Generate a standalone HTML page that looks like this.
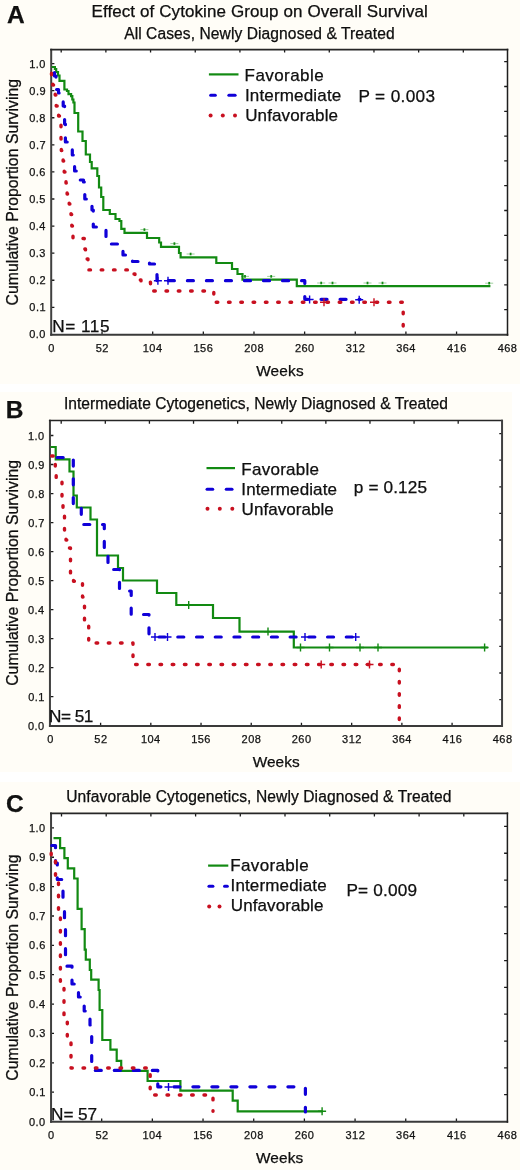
<!DOCTYPE html>
<html><head><meta charset="utf-8"><title>Cytokine survival</title>
<style>
html,body{margin:0;padding:0;background:#fff;}
body{width:520px;height:1170px;overflow:hidden;}
svg{display:block;font-family:"Liberation Sans", sans-serif;will-change:transform;}
text{stroke:currentColor;stroke-width:0.25px;}
</style></head>
<body>
<svg width="520" height="1170" viewBox="0 0 520 1170">
<rect x="0" y="0" width="520" height="1170" fill="#fff"/>
<rect x="0" y="0" width="520" height="384" fill="#fffdf7"/>
<rect x="51.4" y="49.6" width="455.8" height="284.79999999999995" fill="#fff"/>
<path d="M51.40,307.32h3.0 M51.40,280.24h3.0 M51.40,253.16h3.0 M51.40,226.08h3.0 M51.40,199.00h3.0 M51.40,171.92h3.0 M51.40,144.84h3.0 M51.40,117.76h3.0 M51.40,90.68h3.0 M51.40,63.60h3.0 M102.04,334.40v-3.0 M152.69,334.40v-3.0 M203.33,334.40v-3.0 M253.98,334.40v-3.0 M304.62,334.40v-3.0 M355.27,334.40v-3.0 M405.91,334.40v-3.0 M456.56,334.40v-3.0 M61.20,49.60v3.0 M105.88,49.60v3.0 M150.56,49.60v3.0 M195.24,49.60v3.0 M239.92,49.60v3.0 M284.60,49.60v3.0 M329.28,49.60v3.0 M373.96,49.60v3.0 M418.64,49.60v3.0 M463.32,49.60v3.0 M507.20,61.70h-3.0 M507.20,86.50h-3.0 M507.20,111.30h-3.0 M507.20,136.10h-3.0 M507.20,160.90h-3.0 M507.20,185.70h-3.0 M507.20,210.50h-3.0 M507.20,235.30h-3.0 M507.20,260.10h-3.0 M507.20,284.90h-3.0 M507.20,309.70h-3.0" stroke="#1a1a1a" stroke-width="1.3" fill="none"/>
<path d="M51.2,48.85V335.8" stroke="#404040" stroke-width="2" fill="none"/>
<path d="M50.2,334.8H508.3" stroke="#3a3a3a" stroke-width="2" fill="none"/>
<path d="M50.2,49.65H508.3" stroke="#262626" stroke-width="1.6" fill="none"/>
<path d="M507.5,48.85V335.8" stroke="#1e1e1e" stroke-width="1.5" fill="none"/>
<text x="29.24" y="338.40" font-size="11" letter-spacing="0.45" fill="#1c1c1c">0.0</text>
<text x="29.35" y="311.32" font-size="11" letter-spacing="0.45" fill="#1c1c1c">0.1</text>
<text x="29.36" y="284.24" font-size="11" letter-spacing="0.45" fill="#1c1c1c">0.2</text>
<text x="29.29" y="257.16" font-size="11" letter-spacing="0.45" fill="#1c1c1c">0.3</text>
<text x="29.13" y="230.08" font-size="11" letter-spacing="0.45" fill="#1c1c1c">0.4</text>
<text x="29.27" y="203.00" font-size="11" letter-spacing="0.45" fill="#1c1c1c">0.5</text>
<text x="29.29" y="175.92" font-size="11" letter-spacing="0.45" fill="#1c1c1c">0.6</text>
<text x="29.36" y="148.84" font-size="11" letter-spacing="0.45" fill="#1c1c1c">0.7</text>
<text x="29.29" y="121.76" font-size="11" letter-spacing="0.45" fill="#1c1c1c">0.8</text>
<text x="29.33" y="94.68" font-size="11" letter-spacing="0.45" fill="#1c1c1c">0.9</text>
<text x="29.24" y="67.60" font-size="11" letter-spacing="0.45" fill="#1c1c1c">1.0</text>
<text x="48.34" y="351.60" font-size="11" letter-spacing="0.45" fill="#1c1c1c">0</text>
<text x="95.76" y="351.60" font-size="11" letter-spacing="0.45" fill="#1c1c1c">52</text>
<text x="142.80" y="351.60" font-size="11" letter-spacing="0.45" fill="#1c1c1c">104</text>
<text x="193.53" y="351.60" font-size="11" letter-spacing="0.45" fill="#1c1c1c">156</text>
<text x="244.31" y="351.60" font-size="11" letter-spacing="0.45" fill="#1c1c1c">208</text>
<text x="294.93" y="351.60" font-size="11" letter-spacing="0.45" fill="#1c1c1c">260</text>
<text x="345.71" y="351.60" font-size="11" letter-spacing="0.45" fill="#1c1c1c">312</text>
<text x="396.24" y="351.60" font-size="11" letter-spacing="0.45" fill="#1c1c1c">364</text>
<text x="447.04" y="351.60" font-size="11" letter-spacing="0.45" fill="#1c1c1c">416</text>
<text x="497.69" y="351.60" font-size="11" letter-spacing="0.45" fill="#1c1c1c">468</text>
<text x="7.09" y="23.30" font-size="24.5" font-weight="bold" fill="#111" textLength="18.56" lengthAdjust="spacing" >A</text>
<text x="91.46" y="17.10" font-size="17" font-weight="normal" fill="#111" textLength="336.38" lengthAdjust="spacing" >Effect of Cytokine Group on Overall Survival</text>
<text x="124.17" y="38.50" font-size="15.6" font-weight="normal" fill="#111" textLength="270.49" lengthAdjust="spacing" >All Cases, Newly Diagnosed &amp; Treated</text>
<text x="244.61" y="80.70" font-size="17" font-weight="normal" fill="#111" textLength="79.05" lengthAdjust="spacing" >Favorable</text>
<text x="244.93" y="101.20" font-size="17" font-weight="normal" fill="#111" textLength="96.32" lengthAdjust="spacing" >Intermediate</text>
<text x="245.19" y="121.40" font-size="17" font-weight="normal" fill="#111" textLength="92.87" lengthAdjust="spacing" >Unfavorable</text>
<text x="358.49" y="101.90" font-size="17.2" font-weight="normal" fill="#111" textLength="76.57" lengthAdjust="spacing" >P = 0.003</text>
<text x="52.34" y="331.75" font-size="17.2" font-weight="normal" fill="#111" textLength="57.13" lengthAdjust="spacing" >N= 115</text>
<text x="256.13" y="375.80" font-size="15.4" font-weight="normal" fill="#111" textLength="47.52" lengthAdjust="spacing" >Weeks</text>
<text transform="translate(17.6,0) rotate(-90)" x="-305.40" y="0" font-size="15.8" fill="#111" textLength="226.52" lengthAdjust="spacing">Cumulative Proportion Surviving</text>
<path d="M51.5,67 H54.9 V69 H56.2 V72 H58 V75.5 H59.5 V80.8 H64.4 V89.5 H67 V91 H68.5 V94.2 H71.1 V96.2 H72.3 V99.5 H73.4 V102.5 H74.5 V113 H78.2 V131.5 H82.5 V141 H85.8 V154.5 H90 V162 H91.7 V168.3 H97.3 V176 H99 V187.5 H101.2 V197 H103.3 V210 H109.8 V214 H115.5 V219 H119.5 V221 H121.3 V228.8 H124.5 V232.8 H147 V238 H159.2 V242.5 H161 V246.9 H179 V253 H180.6 V257.4 H216.3 V263 H232 V269 H237.5 V274 H242.5 V279.7 H296.8 V286.2 H490.4" stroke="#128a12" stroke-width="2.2" fill="none" stroke-linejoin="miter" stroke-linecap="butt"/>
<path d="M51.5,72 H54.5 V76 H56 V89.5 H58.5 V93 H63.2 V106 H64.6 V124 H65.4 V142 H72.3 V155 H74.6 V171 H77 V180 H83.5 V182 H84.8 V199 H89 V206 H92 V210 H93.3 V227 H106 V244 H118 V251 H123 V255 H132.5 V261.5 H149.5 V264 H155.8 V274 H157 V280.7" stroke="#1000d8" stroke-width="3.2" fill="none" stroke-dasharray="6.0 13.03" stroke-dashoffset="15.46" stroke-linecap="round" stroke-linejoin="round"/>
<path d="M157,280.7 H304.8 V299.3 H360" stroke="#1000d8" stroke-width="3.2" fill="none" stroke-dasharray="6.0 13.03" stroke-dashoffset="7.66" stroke-linecap="round" stroke-linejoin="round"/>
<path d="M51.5,72 V80 H52.8 V85 H55.2 V95 H56.2 V106 H58.6 V116 H61 V139 H61.3 V150.6 H63.1 V161 H64.2 V172 H66 V183 H67.1 V194 H69.2 V204 H71 V214.5 H71.8 V226 H73 V238.5 H84.3 V249 H85.5 V259 H88 V269.9" stroke="#c81020" stroke-width="3.4" fill="none" stroke-dasharray="1.6 10.70" stroke-dashoffset="11.10" stroke-linecap="round" stroke-linejoin="round"/>
<path d="M88,269.9 H130 V274 H135 V280 H141 V282.3 H150.5 V291" stroke="#c81020" stroke-width="3.4" fill="none" stroke-dasharray="1.6 10.70" stroke-dashoffset="11.40" stroke-linecap="round" stroke-linejoin="round"/>
<path d="M150.5,291 H213.8 V302.3 H403.2 V334" stroke="#c81020" stroke-width="3.4" fill="none" stroke-dasharray="1.6 10.70" stroke-dashoffset="9.10" stroke-linecap="round" stroke-linejoin="round"/>
<path d="M140.4,229.6h8" stroke="#128a12" stroke-width="0.9" opacity="0.45"/>
<path d="M144.4,228.3v2.6" stroke="#128a12" stroke-width="1.8"/>
<path d="M170.4,243.6h8" stroke="#128a12" stroke-width="0.9" opacity="0.45"/>
<path d="M174.4,242.3v2.6" stroke="#128a12" stroke-width="1.8"/>
<path d="M186.6,254.0h8" stroke="#128a12" stroke-width="0.9" opacity="0.45"/>
<path d="M190.6,252.7v2.6" stroke="#128a12" stroke-width="1.8"/>
<path d="M241.0,276.4h8" stroke="#128a12" stroke-width="0.9" opacity="0.45"/>
<path d="M245.0,275.1v2.6" stroke="#128a12" stroke-width="1.8"/>
<path d="M267.2,276.4h8" stroke="#128a12" stroke-width="0.9" opacity="0.45"/>
<path d="M271.2,275.1v2.6" stroke="#128a12" stroke-width="1.8"/>
<path d="M317.2,283.0h8" stroke="#128a12" stroke-width="0.9" opacity="0.45"/>
<path d="M321.2,281.7v2.6" stroke="#128a12" stroke-width="1.8"/>
<path d="M328.5,283.0h8" stroke="#128a12" stroke-width="0.9" opacity="0.45"/>
<path d="M332.5,281.7v2.6" stroke="#128a12" stroke-width="1.8"/>
<path d="M363.5,283.0h8" stroke="#128a12" stroke-width="0.9" opacity="0.45"/>
<path d="M367.5,281.7v2.6" stroke="#128a12" stroke-width="1.8"/>
<path d="M378.5,283.0h8" stroke="#128a12" stroke-width="0.9" opacity="0.45"/>
<path d="M382.5,281.7v2.6" stroke="#128a12" stroke-width="1.8"/>
<path d="M485.2,283.2h8" stroke="#128a12" stroke-width="0.9" opacity="0.45"/>
<path d="M489.2,281.9v2.6" stroke="#128a12" stroke-width="1.8"/>
<path d="M153.9,280.7h8M157.9,276.7v8" stroke="#1000d8" stroke-width="1.4"/>
<path d="M164.0,280.7h8M168.0,276.7v8" stroke="#1000d8" stroke-width="1.4"/>
<path d="M305.6,299.5h8M309.6,295.5v8" stroke="#1000d8" stroke-width="1.4"/>
<path d="M355.2,299.8h8M359.2,295.8v8" stroke="#1000d8" stroke-width="1.4"/>
<path d="M320.0,302.3h8M324.0,298.3v8" stroke="#c81020" stroke-width="1.4"/>
<path d="M370.0,302.3h8M374.0,298.3v8" stroke="#c81020" stroke-width="1.4"/>
<path d="M208.9,74.4H238.5" stroke="#128a12" stroke-width="2.2"/>
<path d="M210.7,95.2H215.3" stroke="#1000d8" stroke-width="3.1" stroke-linecap="round"/>
<path d="M228.9,95.2H235.1" stroke="#1000d8" stroke-width="3.1" stroke-linecap="round"/>
<circle cx="210.6" cy="115.5" r="2.0" fill="#c81020"/>
<circle cx="222.8" cy="115.5" r="2.0" fill="#c81020"/>
<circle cx="235.0" cy="115.5" r="2.0" fill="#c81020"/>
<rect x="0" y="392" width="512" height="380" fill="#fffdf7"/>
<rect x="50.4" y="420.8" width="451.90000000000003" height="304.90000000000003" fill="#fff"/>
<path d="M50.40,696.68h3.0 M50.40,667.66h3.0 M50.40,638.64h3.0 M50.40,609.62h3.0 M50.40,580.60h3.0 M50.40,551.58h3.0 M50.40,522.56h3.0 M50.40,493.54h3.0 M50.40,464.52h3.0 M50.40,435.50h3.0 M100.61,725.70v-3.0 M150.82,725.70v-3.0 M201.03,725.70v-3.0 M251.24,725.70v-3.0 M301.46,725.70v-3.0 M351.67,725.70v-3.0 M401.88,725.70v-3.0 M452.09,725.70v-3.0 M61.20,420.80v3.0 M105.31,420.80v3.0 M149.42,420.80v3.0 M193.53,420.80v3.0 M237.64,420.80v3.0 M281.75,420.80v3.0 M325.86,420.80v3.0 M369.97,420.80v3.0 M414.08,420.80v3.0 M458.19,420.80v3.0 M502.30,433.60h-3.0 M502.30,460.20h-3.0 M502.30,486.80h-3.0 M502.30,513.40h-3.0 M502.30,540.00h-3.0 M502.30,566.60h-3.0 M502.30,593.20h-3.0 M502.30,619.80h-3.0 M502.30,646.40h-3.0 M502.30,673.00h-3.0 M502.30,699.60h-3.0" stroke="#1a1a1a" stroke-width="1.3" fill="none"/>
<path d="M49.95,419.74V726.95" stroke="#404040" stroke-width="2" fill="none"/>
<path d="M48.95,725.95H502.85" stroke="#3a3a3a" stroke-width="2" fill="none"/>
<path d="M48.95,420.54H502.85" stroke="#262626" stroke-width="1.6" fill="none"/>
<path d="M502.05,419.74V726.95" stroke="#404040" stroke-width="2" fill="none"/>
<text x="28.04" y="729.70" font-size="11" letter-spacing="0.45" fill="#1c1c1c">0.0</text>
<text x="28.15" y="700.68" font-size="11" letter-spacing="0.45" fill="#1c1c1c">0.1</text>
<text x="28.16" y="671.66" font-size="11" letter-spacing="0.45" fill="#1c1c1c">0.2</text>
<text x="28.09" y="642.64" font-size="11" letter-spacing="0.45" fill="#1c1c1c">0.3</text>
<text x="27.93" y="613.62" font-size="11" letter-spacing="0.45" fill="#1c1c1c">0.4</text>
<text x="28.07" y="584.60" font-size="11" letter-spacing="0.45" fill="#1c1c1c">0.5</text>
<text x="28.09" y="555.58" font-size="11" letter-spacing="0.45" fill="#1c1c1c">0.6</text>
<text x="28.16" y="526.56" font-size="11" letter-spacing="0.45" fill="#1c1c1c">0.7</text>
<text x="28.09" y="497.54" font-size="11" letter-spacing="0.45" fill="#1c1c1c">0.8</text>
<text x="28.13" y="468.52" font-size="11" letter-spacing="0.45" fill="#1c1c1c">0.9</text>
<text x="28.04" y="439.50" font-size="11" letter-spacing="0.45" fill="#1c1c1c">1.0</text>
<text x="47.34" y="742.80" font-size="11" letter-spacing="0.45" fill="#1c1c1c">0</text>
<text x="94.32" y="742.80" font-size="11" letter-spacing="0.45" fill="#1c1c1c">52</text>
<text x="140.94" y="742.80" font-size="11" letter-spacing="0.45" fill="#1c1c1c">104</text>
<text x="191.23" y="742.80" font-size="11" letter-spacing="0.45" fill="#1c1c1c">156</text>
<text x="241.58" y="742.80" font-size="11" letter-spacing="0.45" fill="#1c1c1c">208</text>
<text x="291.77" y="742.80" font-size="11" letter-spacing="0.45" fill="#1c1c1c">260</text>
<text x="342.11" y="742.80" font-size="11" letter-spacing="0.45" fill="#1c1c1c">312</text>
<text x="392.20" y="742.80" font-size="11" letter-spacing="0.45" fill="#1c1c1c">364</text>
<text x="442.58" y="742.80" font-size="11" letter-spacing="0.45" fill="#1c1c1c">416</text>
<text x="492.79" y="742.80" font-size="11" letter-spacing="0.45" fill="#1c1c1c">468</text>
<text x="5.66" y="418.30" font-size="24.5" font-weight="bold" fill="#111" textLength="18.15" lengthAdjust="spacing" >B</text>
<text x="63.96" y="409.20" font-size="15.6" font-weight="normal" fill="#111" textLength="383.95" lengthAdjust="spacing" >Intermediate Cytogenetics, Newly Diagnosed &amp; Treated</text>
<text x="241.31" y="474.70" font-size="17" font-weight="normal" fill="#111" textLength="77.75" lengthAdjust="spacing" >Favorable</text>
<text x="241.33" y="494.80" font-size="17" font-weight="normal" fill="#111" textLength="95.62" lengthAdjust="spacing" >Intermediate</text>
<text x="241.59" y="515.20" font-size="17" font-weight="normal" fill="#111" textLength="92.07" lengthAdjust="spacing" >Unfavorable</text>
<text x="353.79" y="493.40" font-size="17.2" font-weight="normal" fill="#111" textLength="73.23" lengthAdjust="spacing" >p = 0.125</text>
<text x="48.99" y="721.90" font-size="17.2" font-weight="normal" fill="#111" textLength="44.35" lengthAdjust="spacing" >N= 51</text>
<text x="252.63" y="766.90" font-size="15.4" font-weight="normal" fill="#111" textLength="47.12" lengthAdjust="spacing" >Weeks</text>
<text transform="translate(17.6,0) rotate(-90)" x="-685.80" y="0" font-size="15.8" fill="#111" textLength="225.82" lengthAdjust="spacing">Cumulative Proportion Surviving</text>
<path d="M50.5,447 H55.7 V459.4 H69.5 V471.5 H73.5 V495.5 H76.8 V507.5 H90.5 V519.5 H97 V555.5 H118 V568 H123 V580.5 H157 V593 H176.3 V605 H213 V618 H239.5 V631.7 H293.8 V647.5 H487.8" stroke="#128a12" stroke-width="2.2" fill="none" stroke-linejoin="miter" stroke-linecap="butt"/>
<path d="M50.5,457.5 H73.3 V507.5 H81.3 V524.5 H104.3 V553 H108 V569.5 H119.5 V591 H131.2 V614.5 H149 V637" stroke="#1000d8" stroke-width="3.2" fill="none" stroke-dasharray="6.0 12.72" stroke-dashoffset="12.02" stroke-linecap="round" stroke-linejoin="round"/>
<path d="M149,637 H357.5" stroke="#1000d8" stroke-width="3.2" fill="none" stroke-dasharray="6.0 12.72" stroke-dashoffset="8.64" stroke-linecap="round" stroke-linejoin="round"/>
<path d="M50.5,453 V456 H55.3 V472 H56.2 V479 H62 V500 H63 V515 H64.5 V530 H66 V540 H68 V548 H70.5 V575 H73.5 V581.2 H82.5 V597 H84.5 V620 H88.7 V643" stroke="#c81020" stroke-width="3.4" fill="none" stroke-dasharray="1.6 10.60" stroke-dashoffset="8.10" stroke-linecap="round" stroke-linejoin="round"/>
<path d="M88.7,643 H133 V664.5 H399.3 V725.7" stroke="#c81020" stroke-width="3.4" fill="none" stroke-dasharray="1.6 10.60" stroke-dashoffset="4.80" stroke-linecap="round" stroke-linejoin="round"/>
<path d="M184.7,605.0h8M188.7,601.0v8" stroke="#128a12" stroke-width="1.4"/>
<path d="M264.0,631.6h8M268.0,627.6v8" stroke="#128a12" stroke-width="1.4"/>
<path d="M296.5,647.5h8M300.5,643.5v8" stroke="#128a12" stroke-width="1.4"/>
<path d="M325.5,647.5h8M329.5,643.5v8" stroke="#128a12" stroke-width="1.4"/>
<path d="M356.0,647.5h8M360.0,643.5v8" stroke="#128a12" stroke-width="1.4"/>
<path d="M374.0,647.5h8M378.0,643.5v8" stroke="#128a12" stroke-width="1.4"/>
<path d="M480.6,647.5h8M484.6,643.5v8" stroke="#128a12" stroke-width="1.4"/>
<path d="M151.0,637.0h8M155.0,633.0v8" stroke="#1000d8" stroke-width="1.4"/>
<path d="M163.5,637.0h8M167.5,633.0v8" stroke="#1000d8" stroke-width="1.4"/>
<path d="M301.0,637.0h8M305.0,633.0v8" stroke="#1000d8" stroke-width="1.4"/>
<path d="M351.7,637.0h8M355.7,633.0v8" stroke="#1000d8" stroke-width="1.4"/>
<path d="M317.2,664.5h8M321.2,660.5v8" stroke="#c81020" stroke-width="1.4"/>
<path d="M365.5,664.5h8M369.5,660.5v8" stroke="#c81020" stroke-width="1.4"/>
<path d="M206.5,468.1H235.0" stroke="#128a12" stroke-width="2.2"/>
<path d="M207.1,489.2H212.7" stroke="#1000d8" stroke-width="3.1" stroke-linecap="round"/>
<path d="M226.3,489.2H232.0" stroke="#1000d8" stroke-width="3.1" stroke-linecap="round"/>
<circle cx="207.5" cy="508.8" r="2.0" fill="#c81020"/>
<circle cx="219.8" cy="508.8" r="2.0" fill="#c81020"/>
<circle cx="232.3" cy="508.8" r="2.0" fill="#c81020"/>
<rect x="0" y="782" width="520" height="388" fill="#fffdf7"/>
<rect x="51.0" y="813.4" width="456.1" height="308.1" fill="#fff"/>
<path d="M51.00,1092.14h3.0 M51.00,1062.78h3.0 M51.00,1033.42h3.0 M51.00,1004.06h3.0 M51.00,974.70h3.0 M51.00,945.34h3.0 M51.00,915.98h3.0 M51.00,886.62h3.0 M51.00,857.26h3.0 M51.00,827.90h3.0 M101.68,1121.50v-3.0 M152.36,1121.50v-3.0 M203.03,1121.50v-3.0 M253.71,1121.50v-3.0 M304.39,1121.50v-3.0 M355.07,1121.50v-3.0 M405.74,1121.50v-3.0 M456.42,1121.50v-3.0 M61.50,813.40v3.0 M106.20,813.40v3.0 M150.90,813.40v3.0 M195.60,813.40v3.0 M240.30,813.40v3.0 M285.00,813.40v3.0 M329.70,813.40v3.0 M374.40,813.40v3.0 M419.10,813.40v3.0 M463.80,813.40v3.0 M507.10,826.40h-3.0 M507.10,853.23h-3.0 M507.10,880.06h-3.0 M507.10,906.89h-3.0 M507.10,933.72h-3.0 M507.10,960.55h-3.0 M507.10,987.38h-3.0 M507.10,1014.21h-3.0 M507.10,1041.04h-3.0 M507.10,1067.87h-3.0 M507.10,1094.70h-3.0" stroke="#1a1a1a" stroke-width="1.3" fill="none"/>
<path d="M51.05,812.5500000000001V1122.65" stroke="#404040" stroke-width="2" fill="none"/>
<path d="M50.05,1121.65H508.2" stroke="#3a3a3a" stroke-width="2" fill="none"/>
<path d="M50.05,813.35H508.2" stroke="#262626" stroke-width="1.6" fill="none"/>
<path d="M507.4,812.5500000000001V1122.65" stroke="#1e1e1e" stroke-width="1.5" fill="none"/>
<text x="29.04" y="1125.50" font-size="11" letter-spacing="0.45" fill="#1c1c1c">0.0</text>
<text x="29.15" y="1096.14" font-size="11" letter-spacing="0.45" fill="#1c1c1c">0.1</text>
<text x="29.16" y="1066.78" font-size="11" letter-spacing="0.45" fill="#1c1c1c">0.2</text>
<text x="29.09" y="1037.42" font-size="11" letter-spacing="0.45" fill="#1c1c1c">0.3</text>
<text x="28.93" y="1008.06" font-size="11" letter-spacing="0.45" fill="#1c1c1c">0.4</text>
<text x="29.07" y="978.70" font-size="11" letter-spacing="0.45" fill="#1c1c1c">0.5</text>
<text x="29.09" y="949.34" font-size="11" letter-spacing="0.45" fill="#1c1c1c">0.6</text>
<text x="29.16" y="919.98" font-size="11" letter-spacing="0.45" fill="#1c1c1c">0.7</text>
<text x="29.09" y="890.62" font-size="11" letter-spacing="0.45" fill="#1c1c1c">0.8</text>
<text x="29.13" y="861.26" font-size="11" letter-spacing="0.45" fill="#1c1c1c">0.9</text>
<text x="29.04" y="831.90" font-size="11" letter-spacing="0.45" fill="#1c1c1c">1.0</text>
<text x="47.94" y="1138.80" font-size="11" letter-spacing="0.45" fill="#1c1c1c">0</text>
<text x="95.39" y="1138.80" font-size="11" letter-spacing="0.45" fill="#1c1c1c">52</text>
<text x="142.47" y="1138.80" font-size="11" letter-spacing="0.45" fill="#1c1c1c">104</text>
<text x="193.23" y="1138.80" font-size="11" letter-spacing="0.45" fill="#1c1c1c">156</text>
<text x="244.05" y="1138.80" font-size="11" letter-spacing="0.45" fill="#1c1c1c">208</text>
<text x="294.70" y="1138.80" font-size="11" letter-spacing="0.45" fill="#1c1c1c">260</text>
<text x="345.51" y="1138.80" font-size="11" letter-spacing="0.45" fill="#1c1c1c">312</text>
<text x="396.07" y="1138.80" font-size="11" letter-spacing="0.45" fill="#1c1c1c">364</text>
<text x="446.91" y="1138.80" font-size="11" letter-spacing="0.45" fill="#1c1c1c">416</text>
<text x="497.59" y="1138.80" font-size="11" letter-spacing="0.45" fill="#1c1c1c">468</text>
<text x="6.00" y="812.30" font-size="24.5" font-weight="bold" fill="#111" textLength="18.42" lengthAdjust="spacing" >C</text>
<text x="66.20" y="801.80" font-size="15.6" font-weight="normal" fill="#111" textLength="385.31" lengthAdjust="spacing" >Unfavorable Cytogenetics, Newly Diagnosed &amp; Treated</text>
<text x="230.31" y="870.50" font-size="17" font-weight="normal" fill="#111" textLength="78.35" lengthAdjust="spacing" >Favorable</text>
<text x="230.53" y="891.00" font-size="17" font-weight="normal" fill="#111" textLength="96.12" lengthAdjust="spacing" >Intermediate</text>
<text x="230.79" y="911.20" font-size="17" font-weight="normal" fill="#111" textLength="92.67" lengthAdjust="spacing" >Unfavorable</text>
<text x="346.39" y="895.60" font-size="17.2" font-weight="normal" fill="#111" textLength="70.63" lengthAdjust="spacing" >P= 0.009</text>
<text x="51.09" y="1119.75" font-size="17.2" font-weight="normal" fill="#111" textLength="46.03" lengthAdjust="spacing" >N= 57</text>
<text x="255.93" y="1162.70" font-size="15.4" font-weight="normal" fill="#111" textLength="47.32" lengthAdjust="spacing" >Weeks</text>
<text transform="translate(17.6,0) rotate(-90)" x="-1080.80" y="0" font-size="15.8" fill="#111" textLength="226.42" lengthAdjust="spacing">Cumulative Proportion Surviving</text>
<path d="M53.5,838.2 H60.1 V848.2 H64.4 V858.1 H67.8 V868.4 H74.2 V878.5 H77.6 V908.8 H81.6 V929.2 H84.7 V949.6 H85.8 V959.6 H89.8 V970 H91.2 V979.6 H98.6 V990 H99.6 V1010 H102.3 V1040 H110.4 V1049.6 H116.7 V1060.8 H121.2 V1070.8 H147.6 V1081 H180.4 V1090.7 H232.7 V1100.6 H237.7 V1111.3 H322.7" stroke="#128a12" stroke-width="2.2" fill="none" stroke-linejoin="miter" stroke-linecap="butt"/>
<path d="M51.2,845.5 H55.5 V863 H57.3 V879.5 H63 V903" stroke="#1000d8" stroke-width="3.2" fill="none" stroke-dasharray="6.0 13.00" stroke-dashoffset="18.50" stroke-linecap="round" stroke-linejoin="round"/>
<path d="M63,903 H64.5 V922 H65.5 V966.2 H72 V984 H78.5 V997 H84.2 V1011 H90 V1025 H91.7 V1070.4" stroke="#1000d8" stroke-width="3.2" fill="none" stroke-dasharray="6.0 13.00" stroke-dashoffset="8.80" stroke-linecap="round" stroke-linejoin="round"/>
<path d="M91.7,1070.4 H157.8 V1086.8 H305.4 V1112" stroke="#1000d8" stroke-width="3.2" fill="none" stroke-dasharray="6.0 13.00" stroke-dashoffset="15.40" stroke-linecap="round" stroke-linejoin="round"/>
<path d="M51.2,848 V857 H55.5 V878 H58.5 V912 H60.4 V985 H64 V1018 H67.3 V1040 H71 V1068 H150.2 V1095 H213 V1111.3" stroke="#c81020" stroke-width="3.4" fill="none" stroke-dasharray="1.6 10.73" stroke-dashoffset="7.10" stroke-linecap="round" stroke-linejoin="round"/>
<path d="M318.1,1111.3h8M322.1,1107.3v8" stroke="#128a12" stroke-width="1.4"/>
<path d="M164.5,1087.0h8M168.5,1083.0v8" stroke="#1000d8" stroke-width="1.4"/>
<path d="M208.1,865.6H228.3" stroke="#128a12" stroke-width="2.2"/>
<path d="M209.0,886.3H212.9" stroke="#1000d8" stroke-width="3.1" stroke-linecap="round"/>
<path d="M224.6,886.3H227.3" stroke="#1000d8" stroke-width="3.1" stroke-linecap="round"/>
<circle cx="209.2" cy="906.5" r="2.0" fill="#c81020"/>
<circle cx="219.5" cy="906.5" r="2.0" fill="#c81020"/>
</svg>
</body></html>
